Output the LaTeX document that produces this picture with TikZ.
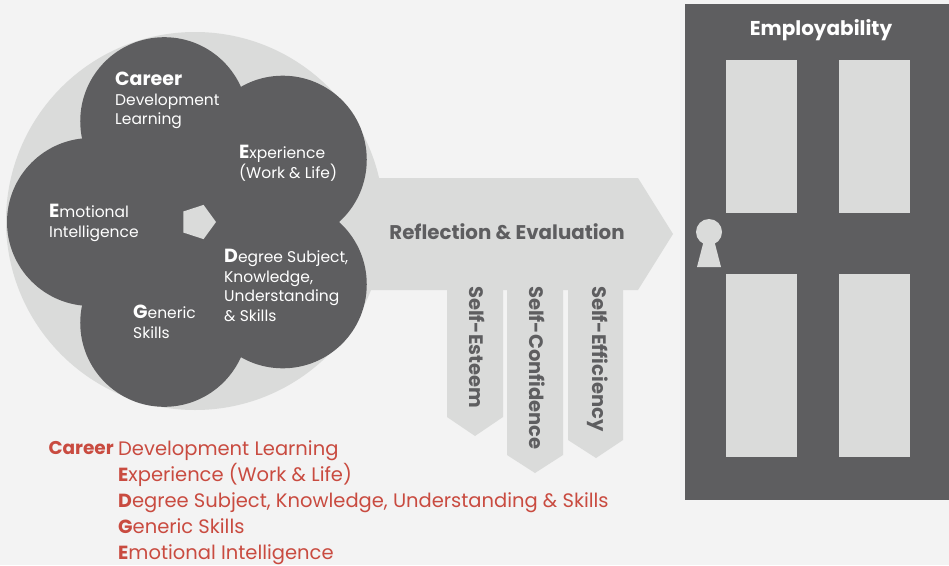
\documentclass[tikz,border=0pt]{standalone}
\usepackage{fontspec}
\setmainfont{Poppins}
\definecolor{bgA}{HTML}{F3F3F3}
\definecolor{keyA}{HTML}{DADBDA}
\definecolor{darkA}{HTML}{5E5E60}
\definecolor{redA}{HTML}{C94B40}
\tikzset{
  petal/.style={text=white, align=left, anchor=north west, inner sep=0pt,
    font=\fontsize{15.5}{19.5}\selectfont},
  toothtext/.style={text=darkA, rotate=-90, anchor=west, inner sep=0pt,
    font=\bfseries\fontsize{19.5}{20}\selectfont},
  listtext/.style={text=redA, align=left, anchor=north west, inner sep=0pt,
    font=\fontsize{19.5}{26.2}\selectfont}
}
\newcommand{\initial}[1]{{\bfseries\fontsize{19}{19}\selectfont #1}}

\begin{document}
\begin{tikzpicture}[x=1pt, y=-1pt]
\useasboundingbox (0,0) rectangle (949,565);
\fill[bgA] (0,0) rectangle (949,565);
% 钥匙：圆环 + 钥匙杆 + 三个齿
\fill[keyA] (195,221) circle (189pt);
\fill[keyA] (360,178) -- (638,178) -- (673,234) -- (638,290) -- (360,290) -- cycle;
\fill[keyA] (447,280) -- (503,280) -- (503,417) -- (475,436) -- (447,417) -- cycle;
\fill[keyA] (507,280) -- (563,280) -- (563,455) -- (535,473) -- (507,455) -- cycle;
\fill[keyA] (568,280) -- (623,280) -- (623,440) -- (596,458) -- (568,440) -- cycle;
% 五瓣花：五个圆绕中心
\foreach \a in {36,108,180,252,324}
  \fill[darkA] ({197+106*cos(\a)},{222-106*sin(\a)}) circle (84pt);
\fill[darkA] (197,222) circle (45pt);
\fill[keyA] (198,222) +(0:18pt) -- +(72:18pt) -- +(144:18pt) -- +(216:18pt) -- +(288:18pt) -- cycle;
% 花瓣文字
\node[petal] (career) at (115,72) {\initial{Career}\\Development\\Learning};
\node[petal] (exper) at (239,145) {\initial{E}xperience\\(Work \& Life)};
\node[petal] (emot) at (49,204) {\initial{E}motional\\Intelligence};
\node[petal] (degree) at (224,249) {\initial{D}egree Subject,\\Knowledge,\\Understanding\\\& Skills};
\node[petal] (generic) at (133,305) {\initial{G}eneric\\Skills};
% 钥匙上的文字
\node[text=darkA, font=\bfseries\fontsize{19.8}{20}\selectfont] (reflect) at (507,232) {Reflection \& Evaluation};
\node[toothtext] (esteem) at (477,286) {Self-Esteem};
\node[toothtext] (confid) at (537,286) {Self-Confidence};
\node[toothtext] (effic) at (598,286) {Self-Efficiency};
% 门
\fill[darkA] (685,4) rectangle (949,500);
\fill[keyA] (726,60) rectangle (797,213);
\fill[keyA] (839,60) rectangle (910,213);
\fill[keyA] (726,274) rectangle (797,457);
\fill[keyA] (839,274) rectangle (910,457);
% 锁孔
\fill[keyA] (709,232) circle (13pt);
\fill[keyA] (704,240) -- (714,240) -- (721,267) -- (697,267) -- cycle;
\node[text=white, font=\bfseries\fontsize{20}{20}\selectfont] (employ) at (821,30) {Employability};
% 底部红色列表
\node[text=redA, anchor=north east, inner sep=0pt, font=\bfseries\fontsize{18.5}{20}\selectfont] (cdl) at (114,441) {Career};
\node[listtext] (list) at (118,440) {Development Learning\\
  \initial{E}xperience (Work \& Life)\\
  \initial{D}egree Subject, Knowledge, Understanding \& Skills\\
  \initial{G}eneric Skills\\
  \initial{E}motional Intelligence};
\end{tikzpicture}
\end{document}
